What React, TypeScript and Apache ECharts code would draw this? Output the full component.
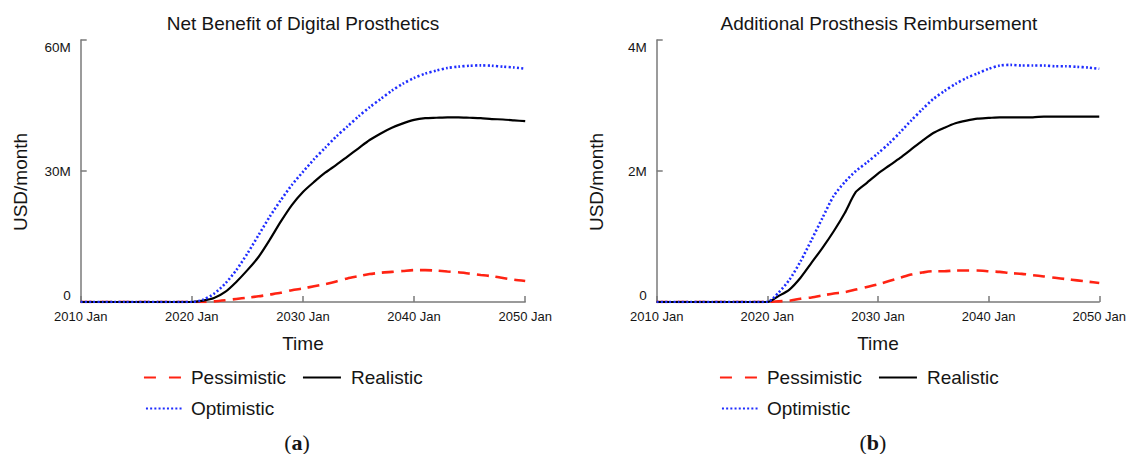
import React, { useEffect, useRef } from "react";
import * as echarts from "echarts";

// x positions (January of each year)
const years = [
    2010, 2011, 2012, 2013, 2014, 2015, 2016, 2017, 2018, 2019, 2020,
    2021, 2022, 2023, 2024, 2025, 2026, 2027, 2028, 2029, 2030,
    2031, 2032, 2033, 2034, 2035, 2036, 2037, 2038, 2039, 2040,
    2041, 2042, 2043, 2044, 2045, 2046, 2047, 2048, 2049, 2050,
];

// (a) Net benefit, million USD/month
const pessimisticA = [
    0, 0, 0, 0, 0, 0, 0, 0, 0, 0, 0,
    0.0, 0.15, 0.4, 0.7, 1.0, 1.3, 1.7, 2.1, 2.7, 3.1,
    3.6, 4.1, 4.7, 5.4, 5.9, 6.4, 6.7, 6.9, 7.1, 7.3,
    7.3, 7.2, 7.0, 6.8, 6.5, 6.2, 5.9, 5.5, 5.1, 4.8,
];
const realisticA = [
    0, 0, 0, 0, 0, 0, 0, 0, 0, 0, 0,
    0.3, 0.9, 2.3, 4.6, 7.3, 10.3, 14.2, 18.4, 22.2, 25.2,
    27.5, 29.6, 31.4, 33.3, 35.2, 37.1, 38.6, 39.9, 40.9, 41.7,
    42.1, 42.2, 42.3, 42.3, 42.2, 42.1, 41.9, 41.8, 41.6, 41.4,
];
const optimisticA = [
    0, 0, 0, 0, 0, 0, 0, 0, 0, 0, 0,
    0.5, 1.9, 4.2, 7.3, 11.1, 15.3, 19.5, 23.3, 26.8, 29.8,
    32.7, 35.3, 37.9, 40.2, 42.5, 44.6, 46.5, 48.4, 50.0, 51.3,
    52.3, 53.0, 53.6, 53.9, 54.1, 54.2, 54.1, 53.9, 53.7, 53.4,
];

// (b) Additional reimbursement, million USD/month
const pessimisticB = [
    0, 0, 0, 0, 0, 0, 0, 0, 0, 0, 0,
    0.01, 0.02, 0.05, 0.07, 0.1, 0.13, 0.15, 0.19, 0.23, 0.27,
    0.32, 0.37, 0.42, 0.45, 0.47, 0.47, 0.48, 0.48, 0.48, 0.47,
    0.46, 0.44, 0.43, 0.41, 0.39, 0.37, 0.35, 0.33, 0.31, 0.29,
];
const realisticB = [
    0, 0, 0, 0, 0, 0, 0, 0, 0, 0, 0,
    0.09, 0.19, 0.37, 0.6, 0.83, 1.08, 1.36, 1.68, 1.82, 1.96,
    2.08, 2.2, 2.33, 2.46, 2.58, 2.66, 2.73, 2.77, 2.8, 2.81,
    2.82, 2.82, 2.82, 2.82, 2.83, 2.83, 2.83, 2.83, 2.83, 2.83,
];
const optimisticB = [
    0, 0, 0, 0, 0, 0, 0, 0, 0, 0, 0,
    0.14, 0.34, 0.62, 0.95, 1.29, 1.62, 1.83, 2.0, 2.13, 2.27,
    2.42, 2.59, 2.77, 2.94, 3.1, 3.22, 3.33, 3.42, 3.49, 3.56,
    3.61, 3.62, 3.61, 3.61, 3.61, 3.6, 3.6, 3.59, 3.58, 3.56,
];

const titles = ["Net Benefit of Digital Prosthetics", "Additional Prosthesis Reimbursement"];
const panelTags = ["a", "b"];
const yMax = [60, 4];
const yStep = [30, 2];

const FONT = "'Liberation Sans', Arial, Helvetica, sans-serif";
const AXIS_GREY = "#7a7a7a";
const TEXT = "#151515";

const pair = (xs: number[], ys: number[]) => xs.map((x, i) => [x, ys[i]]);

export default function App() {
    const chartRef = useRef<HTMLDivElement>(null);

    useEffect(() => {
        if (!chartRef.current) return;
        const chart = echarts.init(chartRef.current, undefined, { renderer: "svg" });

        const gridLeft = [80.7, 656.7];
        const gridWidth = 444.5;
        const centers = gridLeft.map((l) => l + gridWidth / 2);

        const styles: Record<string, any> = {
            Pessimistic: { color: "#ff2313", width: 2.6, type: [12, 7] },
            Realistic: { color: "#000", width: 2.2, type: "solid" },
            Optimistic: { color: "#1f2dff", width: 2.6, type: [2, 2.2] },
        };

        const panelData = [
            { Pessimistic: pessimisticA, Realistic: realisticA, Optimistic: optimisticA },
            { Pessimistic: pessimisticB, Realistic: realisticB, Optimistic: optimisticB },
        ];

        const series: any[] = [];
        panelData.forEach((d, i) => {
            (["Pessimistic", "Realistic", "Optimistic"] as const).forEach((name) => {
                series.push({
                    name,
                    type: "line",
                    xAxisIndex: i,
                    yAxisIndex: i,
                    data: pair(years, d[name]),
                    symbol: "none",
                    smooth: 0.25,
                    color: styles[name].color,
                    lineStyle: styles[name],
                    z: name === "Optimistic" ? 4 : name === "Realistic" ? 3 : 2,
                });
            });
        });

        const legendBase = {
            orient: "horizontal",
            padding: 0,
            itemWidth: 38,
            itemHeight: 14,
            selectedMode: false,
            itemStyle: { opacity: 0 },
            textStyle: { fontSize: 19, color: TEXT, fontFamily: FONT, lineHeight: 19, padding: [0, 0, 0, 5] },
        };

        const option: any = {
            animation: false,
            textStyle: { fontFamily: FONT },
            title: titles.map((t, i) => ({
                text: t,
                left: centers[i],
                top: 14,
                padding: 0,
                textAlign: "center",
                textStyle: { fontSize: 19, fontWeight: "normal", color: TEXT, fontFamily: FONT },
            })),
            grid: gridLeft.map((l) => ({ left: l, top: 40, width: gridWidth, height: 262 })),
            xAxis: gridLeft.map((_, i) => ({
                type: "value",
                gridIndex: i,
                min: 2010,
                max: 2050,
                interval: 10,
                name: "Time",
                nameLocation: "middle",
                nameGap: 32,
                nameTextStyle: { fontSize: 19, color: TEXT, fontFamily: FONT },
                axisLine: { show: true, lineStyle: { color: AXIS_GREY, width: 1.5 } },
                axisTick: { show: true, inside: true, length: 6, lineStyle: { color: AXIS_GREY, width: 1.5 } },
                axisLabel: { fontSize: 13, color: TEXT, margin: 8, formatter: (v: number) => `${v} Jan` },
                splitLine: { show: false },
            })),
            yAxis: gridLeft.map((_, i) => ({
                type: "value",
                gridIndex: i,
                min: 0,
                max: yMax[i],
                interval: yStep[i],
                name: "USD/month",
                nameLocation: "middle",
                nameGap: 51,
                nameTextStyle: { fontSize: 19, color: TEXT, fontFamily: FONT, padding: [0, 22, 0, 0] },
                axisLine: { show: true, lineStyle: { color: AXIS_GREY, width: 1.5 } },
                axisTick: { show: true, inside: true, length: 6, lineStyle: { color: AXIS_GREY, width: 1.5 } },
                axisLabel: {
                    fontSize: 13.5,
                    color: TEXT,
                    margin: 10,
                    verticalAlignMinLabel: "bottom",
                    verticalAlignMaxLabel: "top",
                    formatter: (v: number) => (v === 0 ? "0" : `${v}M`),
                },
                splitLine: { show: false },
            })),
            legend: centers.flatMap((c) => [
                {
                    ...legendBase,
                    left: c - 160,
                    top: 368,
                    itemWidth: 37,
                    lineStyle: { type: [12, 13] },
                    data: ["Pessimistic"],
                },
                { ...legendBase, left: c - 1, top: 368, data: ["Realistic"] },
                {
                    ...legendBase,
                    left: c - 158,
                    top: 399,
                    itemWidth: 36,
                    textStyle: { ...legendBase.textStyle, padding: [0, 0, 0, 4] },
                    data: ["Optimistic"],
                },
            ]),
            graphic: centers.map((c, i) => ({
                type: "text",
                x: c - 6,
                y: 442,
                style: {
                    text: `({b|${panelTags[i]}})`,
                    fontSize: 22,
                    fontFamily: "'Liberation Serif', 'Times New Roman', serif",
                    fill: TEXT,
                    align: "center",
                    verticalAlign: "middle",
                    rich: {
                        b: { fontSize: 22, fontWeight: "bold", fontFamily: "'Liberation Serif', serif", fill: TEXT },
                    },
                },
            })),
            series,
        };

        chart.setOption(option);
        return () => chart.dispose();
    }, []);

    return (
        <div
            ref={chartRef}
            style={{ position: "absolute", left: 0, top: 0, width: 1129, height: 454, background: "#fff" }}
        />
    );
}
